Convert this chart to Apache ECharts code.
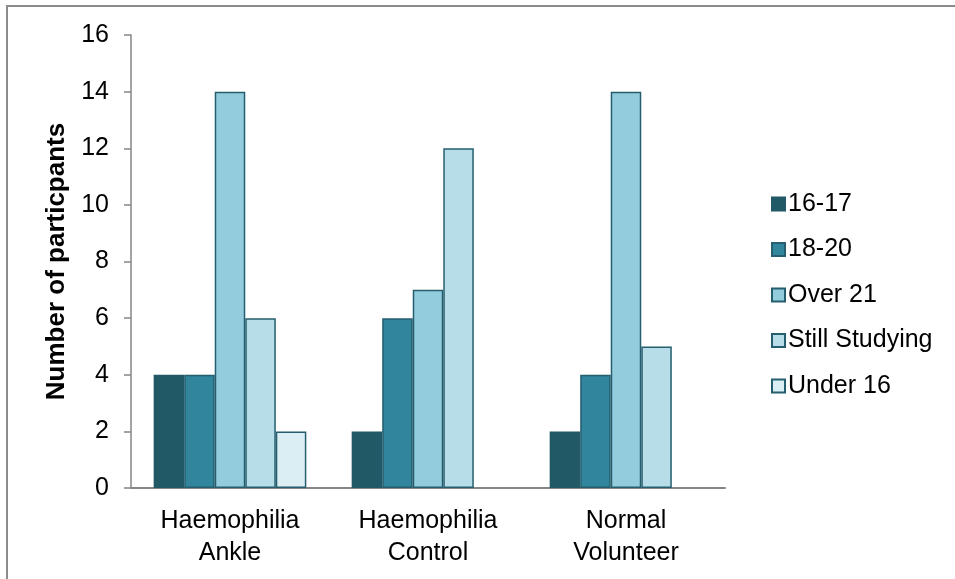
<!DOCTYPE html>
<html>
<head>
<meta charset="utf-8">
<script src="https://cdn.jsdelivr.net/npm/echarts@6/dist/echarts.min.js"></script>
<style>
  html, body { margin: 0; padding: 0; background: #ffffff; }
  #chart { width: 955px; height: 579px; }
</style>
</head>
<body>
<div id="chart"></div>
<script>
// Participant groups along the x axis
const groups = ['Haemophilia\nAnkle', 'Haemophilia\nControl', 'Normal\nVolunteer'];

// Age / study status series
const ageBands = ['16-17', '18-20', 'Over 21', 'Still Studying', 'Under 16'];
const band1617 = [4, 2, 2];
const band1820 = [4, 6, 4];
const bandOver21 = [14, 7, 14];
const bandStudying = [6, 12, 5];
const bandUnder16 = [2, null, null];

const yTicks = { min: 0, max: 16, interval: 2 };

const fills = ['#215967', '#31859C', '#93CDDD', '#B7DEE8', '#DAEEF3'];
const edge = '#255E6E';
const font = 'Liberation Sans, Arial, sans-serif';

const seriesValues = [band1617, band1820, bandOver21, bandStudying, bandUnder16];

const chart = echarts.init(document.getElementById('chart'));
chart.setOption({
  animation: false,
  backgroundColor: '#ffffff',
  graphic: [{
    type: 'rect',
    shape: { x: 7, y: 6, width: 970, height: 600 },
    style: { fill: 'none', stroke: '#8c8c8c', lineWidth: 2 },
    silent: true
  }],
  grid: { left: 131, right: 230, top: 35, bottom: 91 },
  legend: {
    orient: 'vertical',
    left: 766,
    top: 186,
    icon: 'rect',
    itemWidth: 13,
    itemHeight: 13,
    itemGap: 19.5,
    data: ageBands,
    textStyle: { fontFamily: font, fontSize: 25, color: '#000', lineHeight: 26, padding: [0, 0, 0, -2] }
  },
  xAxis: {
    type: 'category',
    data: groups,
    axisLine: { lineStyle: { color: '#868686', width: 2 } },
    axisTick: { show: false },
    axisLabel: { fontFamily: font, fontSize: 25, color: '#000', lineHeight: 32, margin: 17 }
  },
  yAxis: {
    type: 'value',
    min: yTicks.min,
    max: yTicks.max,
    interval: yTicks.interval,
    name: 'Number of particpants',
    nameLocation: 'middle',
    nameGap: 61,
    nameTextStyle: { fontFamily: font, fontSize: 26, fontWeight: 'bold', color: '#000' },
    axisLine: { show: true, lineStyle: { color: '#868686', width: 1.5 } },
    axisTick: { show: true, length: 7, lineStyle: { color: '#868686', width: 1.5 } },
    axisLabel: { fontFamily: font, fontSize: 25, color: '#000', margin: 22 },
    splitLine: { show: false }
  },
  series: ageBands.map((name, i) => ({
    name: name,
    type: 'bar',
    data: seriesValues[i],
    barGap: '0%',
    barCategoryGap: '22.9%',
    itemStyle: { color: fills[i], borderColor: i === 0 ? fills[0] : edge, borderWidth: 1.5 }
  }))
});
</script>
</body>
</html>
